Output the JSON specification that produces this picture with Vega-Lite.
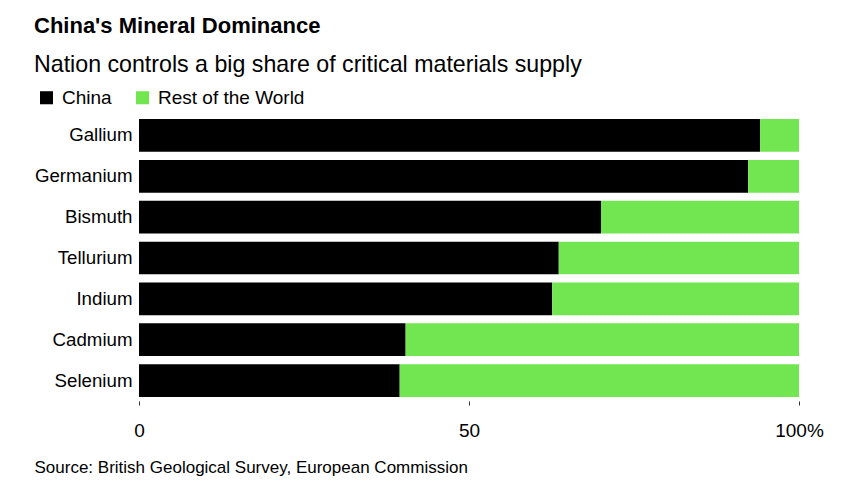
{
  "$schema": "https://vega.github.io/schema/vega-lite/v6.json",
  "width": 660,
  "height": 286,
  "autosize": "none",
  "padding": {"left": 139, "top": 115, "right": 49, "bottom": 83},
  "background": "white",
  "config": {
    "font": "Liberation Sans",
    "view": {"stroke": null}
  },
  "title": {
    "text": "China's Mineral Dominance",
    "subtitle": "Nation controls a big share of critical materials supply",
    "anchor": "start",
    "frame": "bounds",
    "font": "Liberation Sans",
    "fontSize": 22,
    "fontWeight": "bold",
    "color": "#000000",
    "subtitleFont": "Liberation Sans",
    "subtitleFontSize": 23.2,
    "subtitleColor": "#000000",
    "subtitlePadding": 16,
    "offset": 11
  },
  "data": {
    "values": [
      {"mineral": "Gallium", "region": "China", "share": 94.1, "ord": 1},
      {"mineral": "Gallium", "region": "Rest of the World", "share": 5.9, "ord": 2},
      {"mineral": "Germanium", "region": "China", "share": 92.3, "ord": 1},
      {"mineral": "Germanium", "region": "Rest of the World", "share": 7.7, "ord": 2},
      {"mineral": "Bismuth", "region": "China", "share": 70.0, "ord": 1},
      {"mineral": "Bismuth", "region": "Rest of the World", "share": 30.0, "ord": 2},
      {"mineral": "Tellurium", "region": "China", "share": 63.6, "ord": 1},
      {"mineral": "Tellurium", "region": "Rest of the World", "share": 36.4, "ord": 2},
      {"mineral": "Indium", "region": "China", "share": 62.6, "ord": 1},
      {"mineral": "Indium", "region": "Rest of the World", "share": 37.4, "ord": 2},
      {"mineral": "Cadmium", "region": "China", "share": 40.4, "ord": 1},
      {"mineral": "Cadmium", "region": "Rest of the World", "share": 59.6, "ord": 2},
      {"mineral": "Selenium", "region": "China", "share": 39.5, "ord": 1},
      {"mineral": "Selenium", "region": "Rest of the World", "share": 60.5, "ord": 2}
    ]
  },
  "mark": {"type": "bar"},
  "encoding": {
    "y": {
      "field": "mineral",
      "type": "nominal",
      "sort": ["Gallium", "Germanium", "Bismuth", "Tellurium", "Indium", "Cadmium", "Selenium"],
      "scale": {"paddingInner": 0.2, "paddingOuter": 0.1},
      "axis": {
        "title": null,
        "domain": false,
        "ticks": false,
        "labelPadding": 7,
        "labelFontSize": 18.7,
        "labelColor": "#000000",
        "labelFont": "Liberation Sans"
      }
    },
    "x": {
      "field": "share",
      "type": "quantitative",
      "stack": "zero",
      "scale": {"domain": [0, 100], "nice": false},
      "axis": {
        "values": [0, 50, 100],
        "grid": false,
        "domain": false,
        "tickSize": 4,
        "tickColor": "#333333",
        "labelPadding": 16,
        "labelFontSize": 19,
        "labelColor": "#000000",
        "labelFont": "Liberation Sans",
        "labelExpr": "datum.value == 100 ? '100%' : datum.label",
        "labelFlush": false,
        "title": "Source: British Geological Survey, European Commission",
        "titleX": -105,
        "titleY": 71,
        "titleAlign": "left",
        "titleBaseline": "alphabetic",
        "titleFontSize": 17,
        "titleFontWeight": "normal",
        "titleColor": "#000000",
        "titleFont": "Liberation Sans"
      }
    },
    "color": {
      "field": "region",
      "type": "nominal",
      "scale": {"domain": ["China", "Rest of the World"], "range": ["#000000", "#72E650"]},
      "legend": {
        "title": null,
        "orient": "none",
        "direction": "horizontal",
        "legendX": -102,
        "legendY": -27,
        "symbolType": "square",
        "symbolSize": 170,
        "symbolStrokeWidth": 0,
        "labelFontSize": 19,
        "labelColor": "#000000",
        "labelFont": "Liberation Sans",
        "columnPadding": 21,
        "labelOffset": 6
      }
    },
    "order": {"field": "ord", "type": "quantitative"}
  }
}
